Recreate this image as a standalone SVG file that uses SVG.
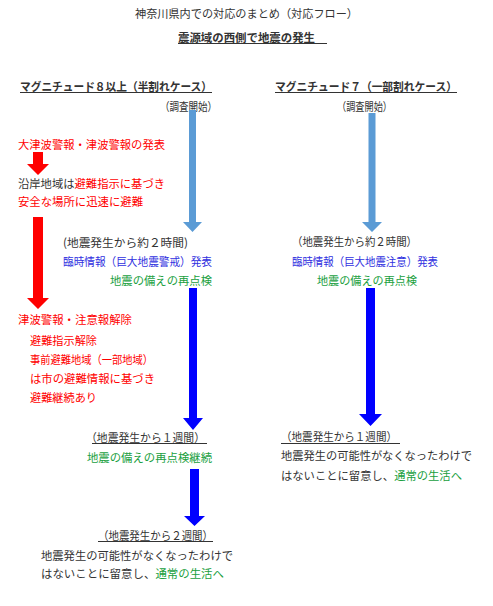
<svg xmlns="http://www.w3.org/2000/svg" width="493" height="606" viewBox="0 0 493 606">
<style>
text{font-family:"Noto Sans CJK JP","Noto Sans",sans-serif;font-size:11.5px;fill:#333;dominant-baseline:central}
.b{font-weight:bold}
.r{fill:#FF0000}
.bl{fill:#3030E0}
.g{fill:#20A040}
.ul{stroke:#333;stroke-width:1}
.red{fill:#FF0000}
.lb{fill:#5B9BD5}
.db{fill:#0000FF}
</style>
<rect width="493" height="606" fill="#fff"/>
<g id="title"><text x="135" y="13" textLength="223" lengthAdjust="spacingAndGlyphs">神奈川県内での対応のまとめ（対応フロー）</text></g>
<g id="quake"><text class="b" x="178" y="37" textLength="137" lengthAdjust="spacingAndGlyphs">震源域の西側で地震の発生</text><line class="ul" x1="178" y1="43.5" x2="327" y2="43.5"/></g>
<g id="m8"><text class="b" x="20" y="86" textLength="192" lengthAdjust="spacingAndGlyphs">マグニチュード８以上（半割れケース）</text><line class="ul" x1="20" y1="92.5" x2="212" y2="92.5"/></g>
<g id="m7"><text class="b" x="275" y="86" textLength="182" lengthAdjust="spacingAndGlyphs">マグニチュード７（一部割れケース）</text><line class="ul" x1="275" y1="92.5" x2="457" y2="92.5"/></g>
<g id="survey-left"><text x="160" y="106" textLength="57" lengthAdjust="spacingAndGlyphs">（調査開始）</text></g>
<g id="survey-right"><text x="337" y="106" textLength="55" lengthAdjust="spacingAndGlyphs">（調査開始）</text></g>
<g id="tsunami-warning"><text class="r" x="18" y="144" textLength="147" lengthAdjust="spacingAndGlyphs">大津波警報・津波警報の発表</text></g>
<g id="evacuate"><text x="18" y="183" textLength="147" lengthAdjust="spacingAndGlyphs">沿岸地域は<tspan class="r">避難指示に基づき</tspan></text><text class="r" x="18" y="201" textLength="125" lengthAdjust="spacingAndGlyphs">安全な場所に迅速に避難</text></g>
<g id="left-2h"><text x="63" y="242" textLength="125" lengthAdjust="spacingAndGlyphs">(地震発生から約２時間)</text><text class="bl" x="63" y="261" textLength="149" lengthAdjust="spacingAndGlyphs">臨時情報（巨大地震警戒）発表</text><text class="g" x="110" y="280" textLength="102" lengthAdjust="spacingAndGlyphs">地震の備えの再点検</text></g>
<g id="tsunami-release"><text class="r" x="18" y="319" textLength="114" lengthAdjust="spacingAndGlyphs">津波警報・注意報解除</text><text class="r" x="30" y="340" textLength="67" lengthAdjust="spacingAndGlyphs">避難指示解除</text><text class="r" x="30" y="359" textLength="123" lengthAdjust="spacingAndGlyphs">事前避難地域（一部地域）</text><text class="r" x="30" y="378" textLength="125" lengthAdjust="spacingAndGlyphs">は市の避難情報に基づき</text><text class="r" x="30" y="397" textLength="67" lengthAdjust="spacingAndGlyphs">避難継続あり</text></g>
<g id="right-2h"><text x="292" y="241" textLength="125" lengthAdjust="spacingAndGlyphs">（地震発生から約２時間）</text><text class="bl" x="292" y="261" textLength="146" lengthAdjust="spacingAndGlyphs">臨時情報（巨大地震注意）発表</text><text class="g" x="317" y="280" textLength="100" lengthAdjust="spacingAndGlyphs">地震の備えの再点検</text></g>
<g id="left-1w"><text x="86" y="437" textLength="119" lengthAdjust="spacingAndGlyphs">（地震発生から１週間）</text><line class="ul" x1="92" y1="443.5" x2="207" y2="443.5"/><text class="g" x="87" y="457" textLength="125" lengthAdjust="spacingAndGlyphs">地震の備えの再点検継続</text></g>
<g id="left-2w"><text x="98" y="535" textLength="115" lengthAdjust="spacingAndGlyphs">（地震発生から２週間）</text><line class="ul" x1="98" y1="541.5" x2="213" y2="541.5"/><text x="41" y="555" textLength="192" lengthAdjust="spacingAndGlyphs">地震発生の可能性がなくなったわけで</text><text x="41" y="573" textLength="183" lengthAdjust="spacingAndGlyphs">はないことに留意し、<tspan class="g">通常の生活へ</tspan></text></g>
<g id="right-1w"><text x="281" y="436" textLength="116" lengthAdjust="spacingAndGlyphs">（地震発生から１週間）</text><line class="ul" x1="281" y1="443.5" x2="400" y2="443.5"/><text x="281" y="455" textLength="191" lengthAdjust="spacingAndGlyphs">地震発生の可能性がなくなったわけで</text><text x="281" y="475" textLength="181" lengthAdjust="spacingAndGlyphs">はないことに留意し、<tspan class="g">通常の生活へ</tspan></text></g>
<g id="connectors">
<polygon class="red" points="33,152 43,152 43,164 49,164 38,175 27,164 33,164"/>
<polygon class="red" points="33,217 43,217 43,298 49,298 38,309 27,298 33,298"/>
<polygon class="lb" points="189,110 196,110 196,222 202,222 192.5,232 183,222 189,222"/>
<polygon class="lb" points="368.5,113 375.5,113 375.5,222 382,222 372,232 362,222 368.5,222"/>
<polygon class="db" points="189,288 197,288 197,418 203,418 193,430 183,418 189,418"/>
<polygon class="db" points="366,288 375,288 375,414 382,414 370.5,426 359,414 366,414"/>
<polygon class="db" points="190,469 199,469 199,516 205,516 194.5,526 184,516 190,516"/>
</g>
</svg>
